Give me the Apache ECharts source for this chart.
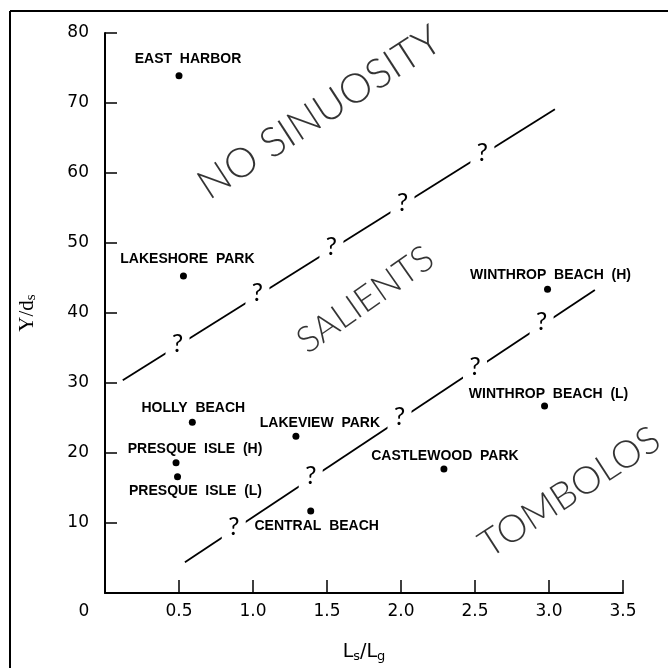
<!DOCTYPE html>
<html>
<head>
<meta charset="utf-8">
<script src="https://cdn.jsdelivr.net/npm/echarts@6/dist/echarts.min.js"></script>
<style>
html, body { margin: 0; padding: 0; background: #fff; }
#divChart { width: 668px; height: 668px; }
</style>
</head>
<body>
<div id="divChart"></div>
<script>
// sites
var siteNames = ['EAST  HARBOR', 'LAKESHORE  PARK', 'HOLLY  BEACH', 'PRESQUE  ISLE  (H)', 'PRESQUE  ISLE  (L)',
    'LAKEVIEW  PARK', 'CENTRAL  BEACH', 'CASTLEWOOD  PARK', 'WINTHROP  BEACH  (L)', 'WINTHROP  BEACH  (H)'];
var siteX = [0.50, 0.53, 0.59, 0.48, 0.49, 1.29, 1.39, 2.29, 2.97, 2.99];
var siteY = [73.9, 45.3, 24.4, 18.6, 16.6, 22.4, 11.7, 17.7, 26.7, 43.4];

// boundary lines
var upperLineX = [0.12, 3.04];
var upperLineY = [30.4, 69.1];
var lowerLineX = [0.54, 3.31];
var lowerLineY = [4.4, 43.3];

// question marks on the boundaries
var upperQX = [0.49, 1.03, 1.53, 2.01, 2.55];
var upperQY = [35.3, 42.6, 49.1, 55.5, 62.6];
var lowerQX = [0.87, 1.39, 1.99, 2.50, 2.95];
var lowerQY = [9.2, 16.4, 24.9, 32.0, 38.4];

// region names
var regionNames = ['NO SINUOSITY', 'SALIENTS', 'TOMBOLOS'];
var regionX = [1.45, 1.76, 3.14];
var regionY = [68.6, 41.9, 14.4];

var xTickLabels = ['', '0.5', '1.0', '1.5', '2.0', '2.5', '3.0', '3.5'];
var yTickLabels = ['', '10', '20', '30', '40', '50', '60', '70', '80'];

// label placement (style, not data)
var siteLabelOffset = [[9, -17], [4, -17], [1, -14], [19, -14], [18, 14],
    [24, -13], [6, 15], [1, -13], [4, -12], [3, -14]];
var regionAngle = [33, 35, 33];
var regionSize = [41, 36, 38];

var thinFont = 'Lato, "Open Sans", Roboto, sans-serif';

var myChart = echarts.init(document.getElementById('divChart'));

function pairs(xs, ys) {
    var r = [];
    for (var i = 0; i < xs.length; i++) r.push([xs[i], ys[i]]);
    return r;
}

function buildSites() {
    var r = [];
    for (var i = 0; i < siteNames.length; i++) {
        r.push({
            name: siteNames[i],
            value: [siteX[i], siteY[i]],
            label: { offset: siteLabelOffset[i] }
        });
    }
    return r;
}

function buildRegions() {
    var r = [];
    for (var i = 0; i < regionNames.length; i++) {
        r.push({
            name: regionNames[i],
            value: [regionX[i], regionY[i]],
            label: { rotate: regionAngle[i], fontSize: regionSize[i] }
        });
    }
    return r;
}

// the "?" sits on a white box that breaks the boundary line
function qSeries(xs, ys) {
    return {
        type: 'scatter',
        data: pairs(xs, ys),
        symbol: 'rect',
        symbolSize: [24, 24],
        itemStyle: { color: '#fff', opacity: 1 },
        label: {
            show: true,
            position: 'inside',
            formatter: '?',
            fontFamily: thinFont,
            fontWeight: 'normal',
            fontSize: 25,
            color: '#000',
            offset: [0, -2]
        },
        emphasis: { disabled: true },
        z: 5
    };
}

var option = {
    backgroundColor: '#fff',
    animation: false,
    grid: { left: 105, right: 45, top: 33, bottom: 74 },
    xAxis: {
        type: 'value',
        min: 0, max: 3.5, interval: 0.5,
        name: 'L{s|s}/L{s|g}',
        nameLocation: 'middle',
        nameGap: 48,
        nameTextStyle: {
            fontFamily: '"DejaVu Sans", sans-serif', fontSize: 19, color: '#000',
            rich: { s: { fontFamily: '"DejaVu Sans", sans-serif', fontSize: 13, padding: [9, 0, 0, 0], color: '#000' } }
        },
        axisLine: { lineStyle: { color: '#000', width: 2 } },
        axisTick: { inside: true, length: 13, lineStyle: { color: '#000', width: 1.5 } },
        axisLabel: {
            margin: 10, color: '#000', fontSize: 17, fontFamily: '"DejaVu Sans", sans-serif',
            formatter: function (v) { return xTickLabels[Math.round(v / 0.5)]; }
        },
        splitLine: { show: false }
    },
    yAxis: {
        type: 'value',
        min: 0, max: 80, interval: 10,
        name: 'Y/d{s|s}',
        nameLocation: 'middle',
        nameGap: 66,
        nameTextStyle: {
            fontFamily: '"Liberation Serif", serif', fontSize: 21, color: '#000',
            rich: { s: { fontFamily: '"Liberation Serif", serif', fontSize: 15, padding: [9, 0, 0, 0], color: '#000' } }
        },
        axisLine: { lineStyle: { color: '#000', width: 2 } },
        axisTick: { inside: true, length: 12, lineStyle: { color: '#000', width: 1.5 } },
        axisLabel: {
            margin: 16, color: '#000', fontSize: 17, fontFamily: '"DejaVu Sans", sans-serif',
            formatter: function (v) { return yTickLabels[Math.round(v / 10)]; }
        },
        splitLine: { show: false }
    },
    series: [
        {
            type: 'line',
            data: pairs(upperLineX, upperLineY),
            showSymbol: false,
            lineStyle: { color: '#000', width: 1.8 },
            z: 2
        },
        {
            type: 'line',
            data: pairs(lowerLineX, lowerLineY),
            showSymbol: false,
            lineStyle: { color: '#000', width: 1.8 },
            z: 2
        },
        qSeries(upperQX, upperQY),
        qSeries(lowerQX, lowerQY),
        {
            type: 'scatter',
            data: buildRegions(),
            symbolSize: 0,
            label: {
                show: true,
                position: 'inside',
                formatter: '{b}',
                fontFamily: thinFont,
                fontWeight: 300,
                color: '#000'
            },
            emphasis: { disabled: true },
            z: 3
        },
        {
            type: 'scatter',
            data: buildSites(),
            symbol: 'circle',
            symbolSize: 7,
            itemStyle: { color: '#000', opacity: 1 },
            label: {
                show: true,
                position: 'inside',
                formatter: '{b}',
                fontFamily: '"Liberation Sans", Arial, sans-serif',
                fontWeight: 'bold',
                fontSize: 14,
                color: '#000'
            },
            emphasis: { disabled: true },
            z: 6
        }
    ]
};

myChart.setOption(option);

// frame and the shared origin label
var origin = myChart.convertToPixel({ gridIndex: 0 }, [0, 0]);
myChart.setOption({
    graphic: [
        { type: 'line', shape: { x1: 10, y1: 11, x2: 668, y2: 11 }, style: { stroke: '#000', lineWidth: 2 } },
        { type: 'line', shape: { x1: 10, y1: 11, x2: 10, y2: 668 }, style: { stroke: '#000', lineWidth: 2 } },
        {
            type: 'text',
            x: origin[0] - 21, y: origin[1] + 19,
            style: { text: '0', fontSize: 17, fontFamily: '"DejaVu Sans", sans-serif', fill: '#000', align: 'center', verticalAlign: 'middle' }
        }
    ]
});
</script>
</body>
</html>
